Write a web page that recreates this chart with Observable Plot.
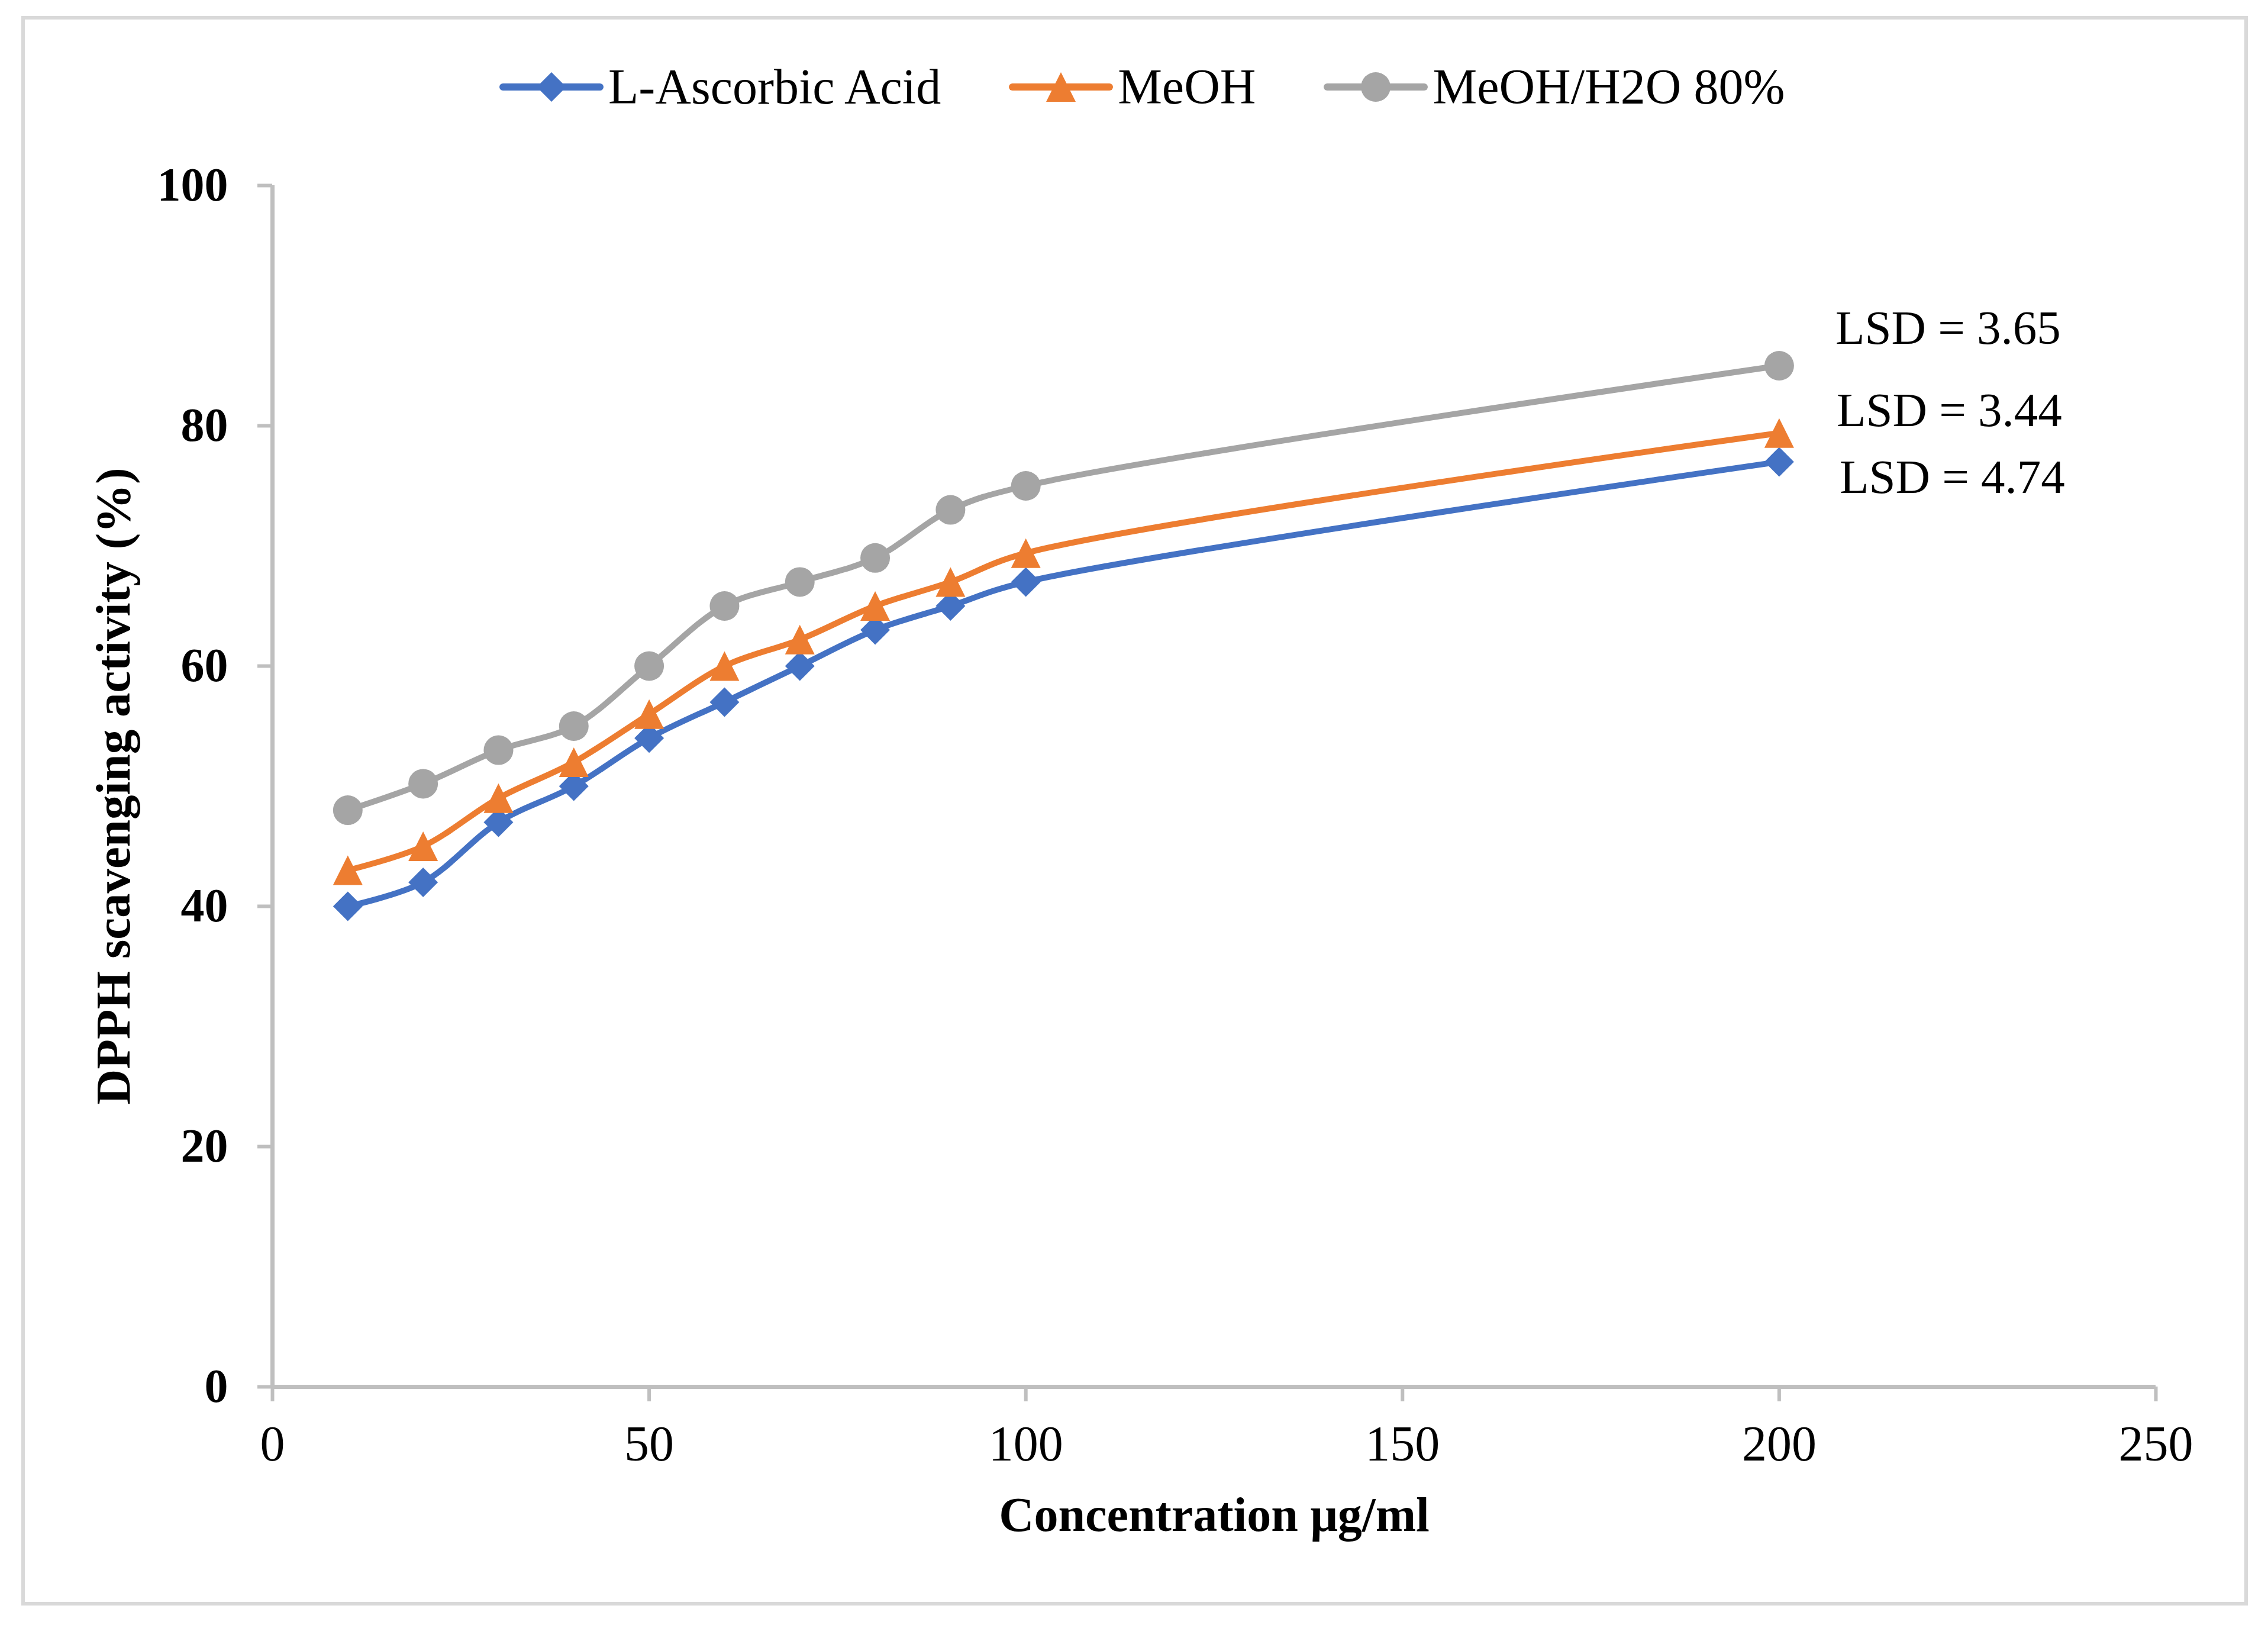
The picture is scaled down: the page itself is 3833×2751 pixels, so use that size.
<!DOCTYPE html>
<html><head><meta charset="utf-8">
<script src="https://cdn.jsdelivr.net/npm/d3@7"></script>
<script src="https://cdn.jsdelivr.net/npm/@observablehq/plot@0.6"></script>
<style>
html,body{margin:0;padding:0;background:#fff;}
#wrap{position:relative;width:3833px;height:2751px;background:#fff;overflow:hidden;}
#border{position:absolute;left:36px;top:27px;width:3763px;height:2686px;box-sizing:border-box;border:6px solid #D9D9D9;pointer-events:none;}
#legend{position:relative;height:230px;box-sizing:border-box;padding-top:107px;padding-left:844px;display:flex;align-items:flex-start;font-family:"Liberation Serif","Times New Roman",serif;font-size:84px;line-height:80px;color:#000;}
.item{display:flex;align-items:center;height:80px;white-space:nowrap;}
.item svg{display:block;margin-right:8px;}
#chart svg{display:block;}
</style></head>
<body><div id="wrap"><div id="legend"></div><div id="chart"></div><div id="border"></div></div>
<script>
// ---- data ----
const concentration = [10, 20, 30, 40, 50, 60, 70, 80, 90, 100, 200];
const ascorbicAcid  = [40, 42, 47, 50, 54, 57, 60, 63, 65, 67, 77];
const meoh          = [43, 45, 49, 52, 56, 60, 62.2, 65, 67, 69.4, 79.4];
const meohH2O80     = [48, 50.2, 53, 55, 60, 65, 67, 69, 73, 75, 85];
const seriesNames   = ["L-Ascorbic Acid", "MeOH", "MeOH/H2O 80%"];
const lsdLabels     = ["LSD = 4.74", "LSD = 3.44", "LSD = 3.65"];
const xTicks        = [0, 50, 100, 150, 200, 250];
const yTicks        = [0, 20, 40, 60, 80, 100];
const xTitle        = "Concentration μg/ml";
const yTitle        = "DPPH scavenging activity (%)";

// ---- styles ----
const seriesColors = ["#4472C4", "#ED7D31", "#A5A5A5"];
const FONT = '"Liberation Serif","Times New Roman",serif';
const AXIS = "#BFBFBF";
const LINE_W = 10;
const MARK_R = 25;

const diamondSymbol = {draw(ctx, size) {const r = Math.sqrt(size / Math.PI);
  ctx.moveTo(0, -r); ctx.lineTo(r, 0); ctx.lineTo(0, r); ctx.lineTo(-r, 0); ctx.closePath();}};
const triangleSymbol = {draw(ctx, size) {const r = Math.sqrt(size / Math.PI);
  ctx.moveTo(0, -r); ctx.lineTo(r, r); ctx.lineTo(-r, r); ctx.closePath();}};
const circleSymbol = {draw(ctx, size) {const r = Math.sqrt(size / Math.PI);
  ctx.moveTo(r, 0); ctx.arc(0, 0, r, 0, 2 * Math.PI); ctx.closePath();}};
const symbols = [diamondSymbol, triangleSymbol, circleSymbol];

const valueSets = [ascorbicAcid, meoh, meohH2O80];
const rows = seriesNames.flatMap((s, i) => concentration.map((c, j) => ({series: s, x: c, y: valueSets[i][j]})));
const lastRows = seriesNames.map((s, i) => ({series: s, x: concentration[concentration.length - 1], y: valueSets[i][valueSets[i].length - 1], label: lsdLabels[i]}));
const lsdOffsets = [[102, 27], [97, -38], [95, -63]];

// ---- legend (HTML) ----
const legend = document.getElementById("legend");
seriesNames.forEach((s, i) => {
  const item = document.createElement("div");
  item.className = "item";
  if (i > 0) item.style.marginLeft = "115px";
  const ns = "http://www.w3.org/2000/svg";
  const svg = document.createElementNS(ns, "svg");
  svg.setAttribute("width", 176); svg.setAttribute("height", 60);
  const line = document.createElementNS(ns, "line");
  line.setAttribute("x1", 6); line.setAttribute("x2", 170); line.setAttribute("y1", 30); line.setAttribute("y2", 30);
  line.setAttribute("stroke", seriesColors[i]); line.setAttribute("stroke-width", LINE_W + 2); line.setAttribute("stroke-linecap", "round");
  svg.appendChild(line);
  const p = d3.path(); symbols[i].draw(p, Math.PI * MARK_R * MARK_R);
  const path = document.createElementNS(ns, "path");
  path.setAttribute("d", p.toString()); path.setAttribute("transform", "translate(88,30)"); path.setAttribute("fill", seriesColors[i]);
  svg.appendChild(path);
  item.appendChild(svg);
  const span = document.createElement("span"); span.textContent = s;
  item.appendChild(span);
  legend.appendChild(item);
});

// ---- chart ----
const chart = Plot.plot({
  width: 3833,
  height: 2521,
  marginLeft: 460,
  marginRight: 190,
  marginTop: 83,
  marginBottom: 408,
  style: {fontFamily: FONT, background: "#fff", color: "#000"},
  x: {domain: [0, 250], axis: null},
  y: {domain: [0, 100], axis: null},
  color: {domain: seriesNames, range: seriesColors},
  marks: [
    Plot.axisX({ticks: xTicks, tickSize: 25, tickPadding: 40, stroke: AXIS, strokeWidth: 6, fill: "#000", fontSize: 84, fontFamily: FONT, label: null, tickFormat: d => String(d)}),
    Plot.axisY({ticks: yTicks, tickSize: 25, tickPadding: 50, stroke: AXIS, strokeWidth: 6, fill: "#000", fontSize: 80, fontWeight: "bold", fontFamily: FONT, label: null, tickFormat: d => String(d)}),
    Plot.ruleX([0], {stroke: AXIS, strokeWidth: 7}),
    Plot.ruleY([0], {stroke: AXIS, strokeWidth: 7}),
    Plot.line(rows, {x: "x", y: "y", z: "series", stroke: "series", strokeWidth: LINE_W, curve: "catmull-rom", strokeLinecap: "round", strokeLinejoin: "round"}),
    ...seriesNames.map((s, i) => Plot.dot(rows.filter(d => d.series === s), {x: "x", y: "y", r: MARK_R, symbol: symbols[i], fill: seriesColors[i], stroke: "none"})),
    ...seriesNames.map((s, i) => Plot.text([lastRows[i]], {x: "x", y: "y", text: "label", dx: lsdOffsets[i][0], dy: lsdOffsets[i][1], textAnchor: "start", lineAnchor: "middle", fontSize: 81, fontFamily: FONT, fill: "#000"})),
    Plot.text([xTitle], {text: d => d, frameAnchor: "bottom", textAnchor: "middle", lineAnchor: "middle", dy: 217, fontSize: 82, fontWeight: "bold", fontFamily: FONT, fill: "#000"}),
    Plot.text([yTitle], {text: d => d, frameAnchor: "left", textAnchor: "middle", lineAnchor: "middle", rotate: -90, dx: -268, dy: 0, fontSize: 83, fontWeight: "bold", fontFamily: FONT, fill: "#000"})
  ]
});
document.getElementById("chart").appendChild(chart);
</script>
</body></html>
